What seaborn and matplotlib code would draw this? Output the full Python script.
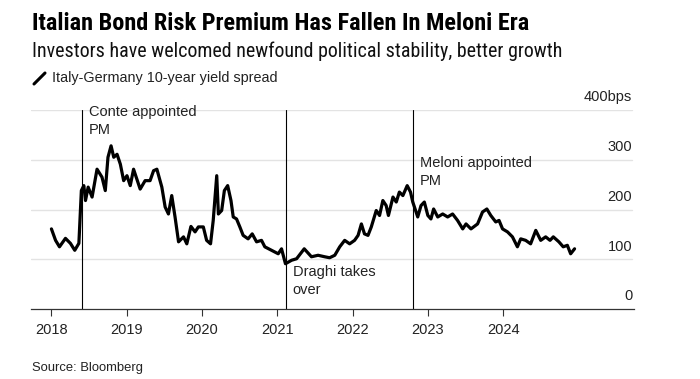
import matplotlib
matplotlib.use("Agg")
import matplotlib.pyplot as plt
import seaborn as sns
import pandas as pd
from matplotlib.lines import Line2D

# ---------------- data ----------------
dates = [
    "2018-01-02", "2018-01-22", "2018-02-10", "2018-03-11", "2018-04-04", "2018-04-25",
    "2018-05-15", "2018-05-27", "2018-06-08", "2018-06-16", "2018-06-29", "2018-07-18",
    "2018-08-11", "2018-09-04", "2018-09-20", "2018-10-03", "2018-10-18", "2018-10-31",
    "2018-11-16", "2018-12-02", "2018-12-18", "2019-01-03", "2019-01-19", "2019-02-04",
    "2019-02-20", "2019-03-08", "2019-04-01", "2019-04-25", "2019-05-12", "2019-05-28",
    "2019-06-21", "2019-07-07", "2019-07-23", "2019-08-08", "2019-08-24", "2019-09-10",
    "2019-10-04", "2019-10-20", "2019-11-09", "2019-11-29", "2019-12-15", "2020-01-08",
    "2020-01-24", "2020-02-12", "2020-02-25", "2020-03-13", "2020-03-21", "2020-04-06",
    "2020-04-19", "2020-05-05", "2020-05-21", "2020-06-01", "2020-06-17", "2020-07-03",
    "2020-07-19", "2020-08-12", "2020-09-01", "2020-09-22", "2020-10-16", "2020-11-01",
    "2020-12-03", "2021-01-05", "2021-01-21", "2021-02-09", "2021-03-11", "2021-04-04",
    "2021-05-11", "2021-06-15", "2021-07-17", "2021-08-18", "2021-09-11", "2021-10-06",
    "2021-10-30", "2021-11-23", "2021-12-17", "2022-01-10", "2022-01-27", "2022-02-12",
    "2022-02-27", "2022-03-16", "2022-04-01", "2022-04-25", "2022-05-11", "2022-05-27",
    "2022-06-12", "2022-06-23", "2022-07-15", "2022-07-31", "2022-08-15", "2022-09-01",
    "2022-09-22", "2022-10-08", "2022-10-19", "2022-11-12", "2022-11-28", "2022-12-14",
    "2022-12-31", "2023-01-15", "2023-01-28", "2023-02-17", "2023-03-13", "2023-04-06",
    "2023-04-30", "2023-05-24", "2023-06-18", "2023-07-04", "2023-07-28", "2023-08-29",
    "2023-09-22", "2023-10-13", "2023-11-01", "2023-11-25", "2023-12-11", "2023-12-28",
    "2024-01-21", "2024-02-14", "2024-03-09", "2024-03-25", "2024-04-18", "2024-05-12",
    "2024-06-06", "2024-06-30", "2024-07-24", "2024-08-14", "2024-08-30", "2024-09-26",
    "2024-10-17", "2024-11-06", "2024-11-22", "2024-12-11",
]
spread_bps = [
    161, 138, 125, 142, 132, 118,
    132, 238, 248, 218, 245, 225,
    281, 265, 238, 305, 328, 305,
    311, 291, 258, 268, 248, 281,
    261, 241, 258, 258, 278, 281,
    245, 205, 191, 228, 185, 135,
    145, 131, 166, 155, 165, 165,
    138, 131, 178, 268, 191, 198,
    238, 248, 218, 185, 181, 165,
    148, 141, 151, 135, 138, 125,
    118, 111, 121, 91, 98, 101,
    121, 105, 108, 105, 103, 108,
    125, 138, 131, 138, 148, 171,
    151, 148, 165, 198, 188, 218,
    208, 188, 225, 215, 235, 228,
    248, 235, 215, 185, 208, 215,
    188, 181, 201, 185, 191, 185,
    191, 178, 161, 171, 161, 171,
    195, 201, 188, 175, 178, 161,
    155, 145, 125, 141, 138, 131,
    158, 138, 145, 138, 145, 135,
    125, 128, 111, 121,
]

event_dates = ["2018-06-01", "2021-02-13", "2022-10-22"]
event_labels = ["Conte appointed\nPM", "Draghi takes\nover", "Meloni appointed\nPM"]
event_label_y = [378, 56, 276]

year_ticks = ["2018", "2019", "2020", "2021", "2022", "2023", "2024"]
y_ticks = [0, 100, 200, 300, 400]
y_tick_labels = ["0", "100", "200", "300", "400bps"]

title = "Italian Bond Risk Premium Has Fallen In Meloni Era"
subtitle = "Investors have welcomed newfound political stability, better growth"
legend_label = "Italy-Germany 10-year yield spread"
source = "Source: Bloomberg"

# ---------------- style ----------------
sns.set_theme(style="white")
body = ["Liberation Sans", "DejaVu Sans"]
cond = ["Roboto Condensed", "Archivo Narrow", "Liberation Sans", "DejaVu Sans"]
plt.rcParams["font.family"] = body

df = pd.DataFrame({"date": pd.to_datetime(dates), "spread": spread_bps})

W, H = 700, 379
fig = plt.figure(figsize=(7.0, 3.79), dpi=100)
ax = fig.add_axes([31 / W, 1 - 309 / H, (634 - 31) / W, (309 - 110) / H])

sns.lineplot(data=df, x="date", y="spread", ax=ax, color="black", linewidth=2.3,
             solid_joinstyle="round", zorder=3)

ax.set_xlim(pd.Timestamp("2017-09-25"), pd.Timestamp("2025-09-25"))
ax.set_ylim(0, 400)

for v in y_ticks[1:]:
    ax.axhline(v, color="#e3e3e3", linewidth=1.0, zorder=0, xmax=0.997)
tr = ax.get_yaxis_transform()
for v, lab in zip(y_ticks, y_tick_labels):
    ax.annotate(lab, xy=(0.997, v), xycoords=tr, xytext=(0, 4), textcoords="offset points",
                ha="right", va="bottom", fontsize=10.5, color="#222222")

ax.set_yticks([])
ax.set_xticks(pd.to_datetime([y + "-01-01" for y in year_ticks]))
ax.set_xticklabels(year_ticks)
ax.tick_params(axis="x", direction="out", length=5, width=0.8, color="#333333",
               pad=5, labelsize=10.5, labelcolor="#222222", bottom=True)
for s in ["top", "left", "right"]:
    ax.spines[s].set_visible(False)
ax.spines["bottom"].set_color("#333333")
ax.spines["bottom"].set_linewidth(0.9)
ax.set_xlabel("")
ax.set_ylabel("")

for d, lab, ly in zip(event_dates, event_labels, event_label_y):
    t = pd.Timestamp(d)
    ax.axvline(t, ymin=0, ymax=1, color="black", linewidth=0.8, zorder=2)
    ax.annotate(lab, xy=(t, ly), xytext=(4.5, 0), textcoords="offset points",
                ha="left", va="center", fontsize=10.5, color="#222222",
                linespacing=1.35)

# header / footer text, sized to the reference widths
renderer = fig.canvas.get_renderer()


def fitted_text(x0, x1, yc, s, size, **kw):
    t = fig.text(x0 / W, 1 - yc / H, s, fontsize=size, ha="left", va="center", **kw)
    w = t.get_window_extent(renderer).width
    t.set_fontsize(size * (x1 - x0) / w)
    return t


fitted_text(32, 528, 24, title, 16, fontweight="bold", family=cond, color="black")
fitted_text(32, 565, 51, subtitle, 14, family=cond, color="#111111")
fig.add_artist(Line2D([34 / W, 45 / W], [1 - 84 / H, 1 - 73 / H], color="black",
                      linewidth=2.2, solid_capstyle="round", transform=fig.transFigure))
fitted_text(52, 278, 78, legend_label, 10.5, family=body, color="#222222")
fitted_text(32, 143, 368, source, 9.5, family=body, color="#222222")

fig.savefig("out.png", dpi=100, facecolor="white")
